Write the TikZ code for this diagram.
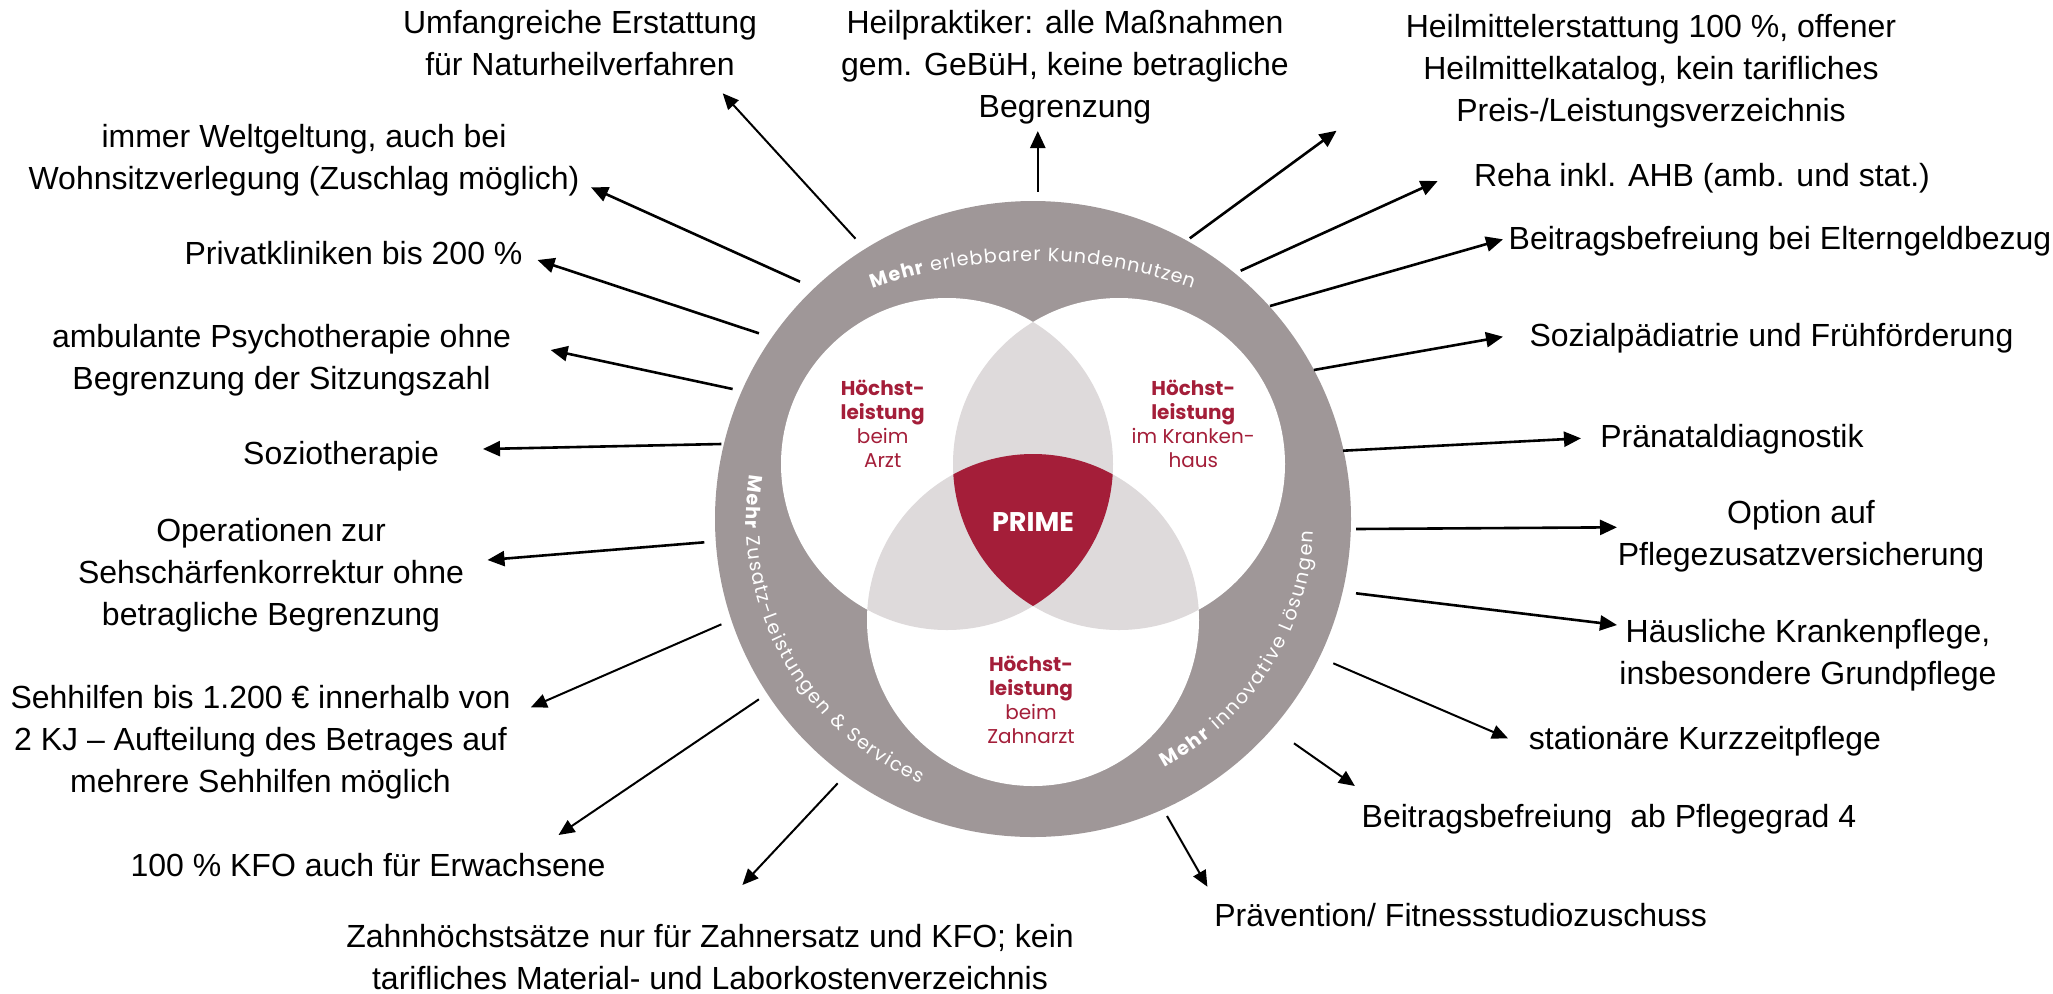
\documentclass[tikz,border=0pt]{standalone}
\usepackage{fontspec}
\setmainfont{Liberation Sans}
\newfontfamily\pop{Poppins}
\usetikzlibrary{arrows.meta,decorations.text}
\definecolor{ringgrey}{HTML}{9F9798}
\definecolor{lensgrey}{HTML}{DEDADB}
\definecolor{primered}{HTML}{A41E39}
\newcommand\ringreg{\pop\fontsize{9.6}{10}\selectfont}
\newcommand\ringbf{\pop\bfseries\fontsize{9.6}{10}\selectfont}
\begin{document}
\begin{tikzpicture}[x=0.5pt,y=0.5pt,
  lbl/.style={align=center, inner sep=0pt, font=\fontsize{16}{21}\selectfont},
  vt/.style={align=center, inner sep=0pt, text=primered, font=\pop\fontsize{10}{12}\selectfont},
  arr/.style={line width=1.3pt, -{Triangle[length=8.5pt,width=7.5pt]}},
  arrthin/.style={line width=1pt, -{Triangle[length=8pt,width=7pt]}},
  ringtext/.style={decorate, decoration={text along path, text align={fit to path}, text color=white}}
]
\useasboundingbox (0,0) rectangle (2053,-993);
% --- disk and venn ---
\coordinate (C) at (1033,-519);
\coordinate (CL) at (947,-464);
\coordinate (CR) at (1119,-464);
\coordinate (CB) at (1033,-620);
\fill[ringgrey] (C) circle[radius=318];
\fill[white] (CL) circle[radius=166];
\fill[white] (CR) circle[radius=166];
\fill[white] (CB) circle[radius=166];
\begin{scope}
  \clip (CL) circle[radius=166];
  \fill[lensgrey] (CR) circle[radius=166];
  \fill[lensgrey] (CB) circle[radius=166];
\end{scope}
\begin{scope}
  \clip (CR) circle[radius=166];
  \fill[lensgrey] (CB) circle[radius=166];
\end{scope}
\begin{scope}
  \clip (CL) circle[radius=166];
  \clip (CR) circle[radius=166];
  \fill[primered] (CB) circle[radius=166];
\end{scope}
% --- ring texts ---
\path[ringtext, decoration={text={|\ringbf|Mehr|\ringreg| erlebbarer Kundennutzen}}]
  (872.8,-288.5) arc[start angle=109.5, end angle=70.5, radius=480];
\path[ringtext, decoration={text={|\ringbf|Mehr|\ringreg| Zusatz-Leistungen {\&} Services}}]
  (749.5,-474.1) arc[start angle=171, end angle=247, radius=287];
\path[ringtext, decoration={text={|\ringbf|Mehr|\ringreg| innovative Lösungen}}]
  (1164.9,-767.1) arc[start angle=-62, end angle=-2.5, radius=281];
% --- venn texts ---
\node[vt] (tArzt) at (882.7,-424.2) {\textbf{Höchst-}\\\textbf{leistung}\\beim\\Arzt};
\node[vt] (tKH) at (1193.3,-424) {\textbf{Höchst-}\\\textbf{leistung}\\im Kranken-\\haus};
\node[vt] (tZA) at (1031,-699.5) {\textbf{Höchst-}\\\textbf{leistung}\\beim\\Zahnarzt};
\node[inner sep=0pt, text=white, font=\pop\bfseries\fontsize{13.5}{14}\selectfont] (prime) at (1033,-522.2) {PRIME};
% --- labels ---
\node[lbl] (L1) at (580,-43.3) {Umfangreiche Erstattung\\für Naturheilverfahren};
\node[lbl] (L2) at (304,-160.5) {immer Weltgeltung, auch bei\\Wohnsitzverlegung (Zuschlag möglich)};
\node[lbl] (L3) at (353.5,-253.3) {Privatkliniken bis 200 \%};
\node[lbl] (L4) at (281.5,-360.5) {ambulante Psychotherapie ohne\\Begrenzung der Sitzungszahl};
\node[lbl] (L5) at (341,-456.3) {Soziotherapie};
\node[lbl] (L6) at (271,-575) {Operationen zur\\Sehschärfenkorrektur ohne\\betragliche Begrenzung};
\node[lbl] (L7) at (260.5,-742) {Sehhilfen bis 1.200 € innerhalb von\\2 KJ – Aufteilung des Betrages auf\\mehrere Sehhilfen möglich};
\node[lbl] (L8) at (368,-865) {100 \% KFO auch für Erwachsene};
\node[lbl] (L9) at (710,-957.5) {Zahnhöchstsätze nur für Zahnersatz und KFO; kein\\tarifliches Material- und Laborkostenverzeichnis};
\node[lbl] (L10) at (1065,-67) {Heilpraktiker: alle Maßnahmen\\gem. GeBüH, keine betragliche\\Begrenzung};
\node[lbl] (L11) at (1651,-71.3) {Heilmittelerstattung 100 \%, offener\\Heilmittelkatalog, kein tarifliches\\Preis-/Leistungsverzeichnis};
\node[lbl] (L12) at (1702,-178) {Reha inkl. AHB (amb. und stat.)};
\node[lbl] (L13) at (1780,-241.3) {Beitragsbefreiung bei Elterngeldbezug};
\node[lbl] (L14) at (1771.5,-338) {Sozialpädiatrie und Frühförderung};
\node[lbl] (L15) at (1732,-439.7) {Pränataldiagnostik};
\node[lbl] (L16) at (1801,-536.3) {Option auf\\Pflegezusatzversicherung};
\node[lbl] (L17) at (1808,-655.5) {Häusliche Krankenpflege,\\insbesondere Grundpflege};
\node[lbl] (L18) at (1705,-741.3) {stationäre Kurzzeitpflege};
\node[lbl] (L19) at (1609,-819.7) {Beitragsbefreiung\ \ ab Pflegegrad 4};
\node[lbl] (L20) at (1460.6,-915) {Prävention/ Fitnessstudiozuschuss};
% --- arrow coordinates ---
\coordinate (s1) at (855.5,-238.7);   \coordinate (e1) at (722.7,-93.3);
\coordinate (s2) at (800,-281.7);     \coordinate (e2) at (591,-187.3);
\coordinate (s3) at (758.9,-333.3);   \coordinate (e3) at (537.5,-260);
\coordinate (s4) at (732.6,-389);     \coordinate (e4) at (550.6,-350);
\coordinate (s5) at (721.4,-444);     \coordinate (e5) at (483,-449);
\coordinate (s6) at (1037.8,-191.7);  \coordinate (e6) at (1037.8,-131);
\coordinate (s7) at (1189.8,-238.3);  \coordinate (e7) at (1336.6,-130.7);
\coordinate (s8) at (1240.7,-270.7);  \coordinate (e8) at (1437.7,-181);
\coordinate (s9) at (1270,-306);      \coordinate (e9) at (1503,-239.3);
\coordinate (s10) at (1313.8,-370);   \coordinate (e10) at (1503,-336.7);
\coordinate (s11) at (1343,-450.7);   \coordinate (e11) at (1581,-438.3);
\coordinate (s12) at (704.3,-542.3);  \coordinate (e12) at (487.5,-560);
\coordinate (s13) at (721.4,-624.3);  \coordinate (e13) at (530.9,-707.3);
\coordinate (s14) at (758.9,-699.3);  \coordinate (e14) at (558.5,-835);
\coordinate (s15) at (837.7,-783.3);  \coordinate (e15) at (742.4,-885);
\coordinate (s16) at (1356,-529);     \coordinate (e16) at (1617,-527.3);
\coordinate (s17) at (1356,-593.3);   \coordinate (e17) at (1617,-625);
\coordinate (s18) at (1333.3,-663.3); \coordinate (e18) at (1508,-738.3);
\coordinate (s19) at (1294,-743.3);   \coordinate (e19) at (1354.9,-786);
\coordinate (s20) at (1167,-816);     \coordinate (e20) at (1207.4,-886.7);
% --- arrows ---
\draw[arrthin] (s1) -- (e1);
\draw[arr] (s2) -- (e2);
\draw[arr] (s3) -- (e3);
\draw[arr] (s4) -- (e4);
\draw[arr] (s5) -- (e5);
\draw[arr] (s6) -- (e6);
\draw[arr] (s7) -- (e7);
\draw[arr] (s8) -- (e8);
\draw[arr] (s9) -- (e9);
\draw[arr] (s10) -- (e10);
\draw[arr] (s11) -- (e11);
\draw[arr] (s12) -- (e12);
\draw[arrthin] (s13) -- (e13);
\draw[arrthin] (s14) -- (e14);
\draw[arrthin] (s15) -- (e15);
\draw[arr] (s16) -- (e16);
\draw[arr] (s17) -- (e17);
\draw[arrthin] (s18) -- (e18);
\draw[arrthin] (s19) -- (e19);
\draw[arrthin] (s20) -- (e20);
\end{tikzpicture}
\end{document}
